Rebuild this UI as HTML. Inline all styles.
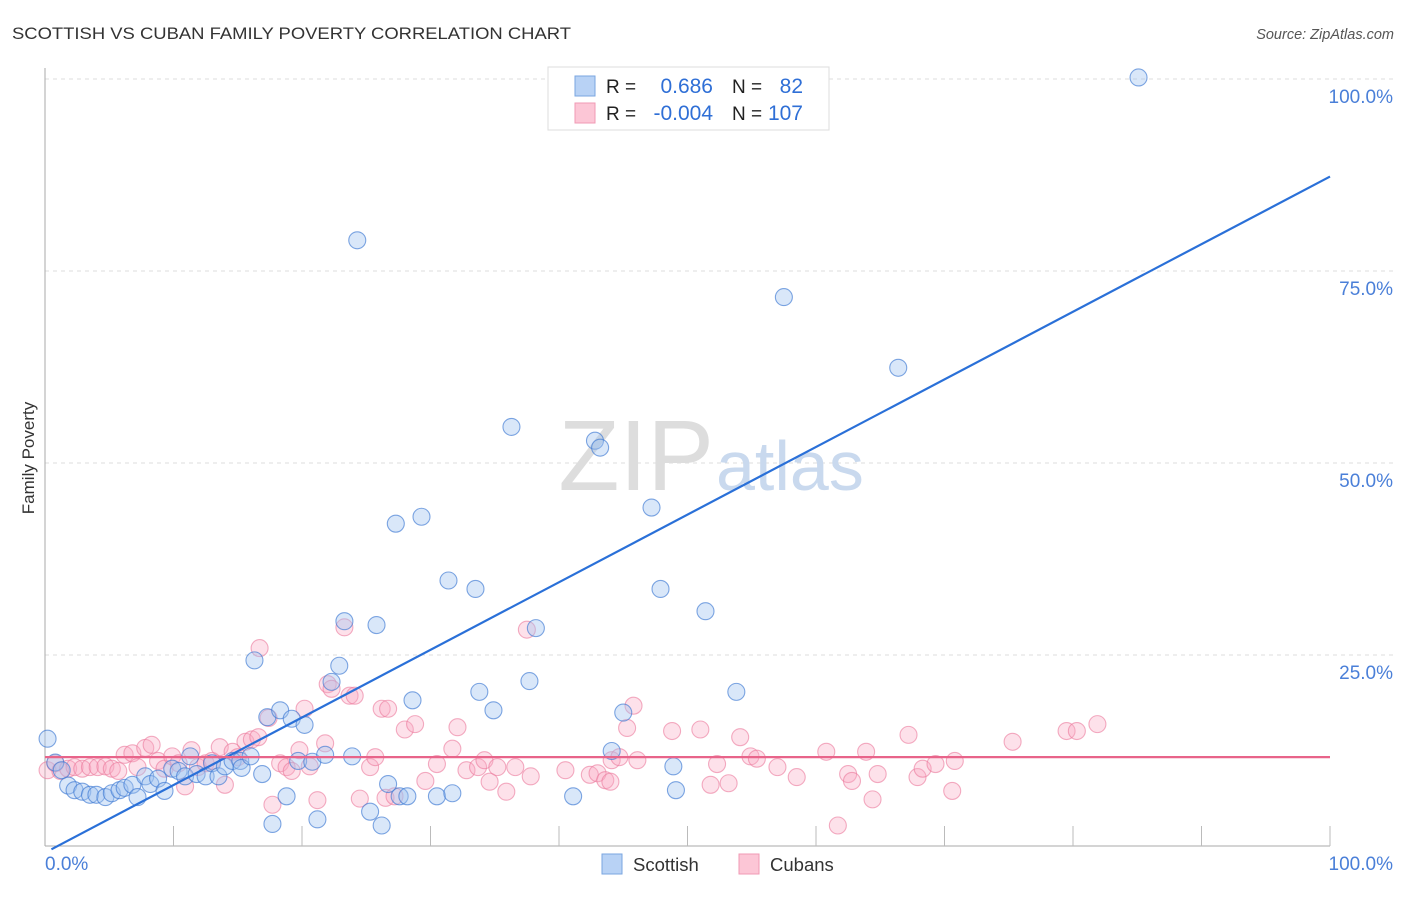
<!DOCTYPE html>
<html><head><meta charset="utf-8"><style>
body{margin:0;background:#fff;font-family:"Liberation Sans",sans-serif;}
svg text{font-family:"Liberation Sans",sans-serif;}
</style></head><body>
<svg id="c" width="1406" height="892">
<text x="12" y="39" font-size="17" fill="#333" textLength="559" lengthAdjust="spacingAndGlyphs">SCOTTISH VS CUBAN FAMILY POVERTY CORRELATION CHART</text>
<text x="1394" y="39" font-size="14.5" fill="#555" font-style="italic" text-anchor="end">Source: ZipAtlas.com</text>
<text x="34" y="458" font-size="17" fill="#333" text-anchor="middle" transform="rotate(-90 34 458)">Family Poverty</text>
<g id="grid"></g>
<text x="714" y="490" font-size="100" fill="#ddd" text-anchor="end" font-family="Liberation Serif">ZIP</text>
<text x="716" y="490" font-size="70" fill="#c9d9ee">atlas</text>
<g id="pts"></g>
<g id="lines"></g>
<g>
<rect x="548" y="67" width="281" height="63" fill="#fff" stroke="#ddd"/>
<rect x="575" y="76" width="20" height="20" fill="#b8d2f5" stroke="#7aa6e0"/>
<rect x="575" y="103" width="20" height="20" fill="#fcc6d6" stroke="#f09ab4"/>
<text x="606" y="93" font-size="19" fill="#222">R =</text><text x="713" y="93" font-size="21" fill="#2f6fd6" text-anchor="end">0.686</text>
<text x="732" y="93" font-size="19" fill="#222">N =</text><text x="803" y="93" font-size="21" fill="#2f6fd6" text-anchor="end">82</text>
<text x="606" y="120" font-size="19" fill="#222">R =</text><text x="713" y="120" font-size="21" fill="#2f6fd6" text-anchor="end">-0.004</text>
<text x="732" y="120" font-size="19" fill="#222">N =</text><text x="803" y="120" font-size="21" fill="#2f6fd6" text-anchor="end">107</text>
</g>
<g>
<rect x="602" y="854" width="20" height="20" fill="#b8d2f5" stroke="#7aa6e0"/>
<text x="633" y="871" font-size="18.5" fill="#333">Scottish</text>
<rect x="739" y="854" width="20" height="20" fill="#fcc6d6" stroke="#f09ab4"/>
<text x="770" y="871" font-size="18.5" fill="#333">Cubans</text>
</g>
<text x="45" y="870" font-size="19" fill="#4a7fd8">0.0%</text>
<text x="1393" y="870" font-size="19" fill="#4a7fd8" text-anchor="end">100.0%</text>
</svg>
<script>
const yTicks=[100,75,50,25];
const yTickLabels=["100.0%","75.0%","50.0%","25.0%"];
const xTicks=[10,20,30,40,50,60,70,80,90,100];
const scottishX=[0.2,0.8,1.3,1.8,2.3,2.9,3.5,4.0,4.7,5.2,5.8,6.2,6.8,7.2,7.8,8.2,8.8,9.3,9.9,10.4,10.9,11.3,11.8,12.5,13.0,13.5,14.0,14.6,15.2,15.3,16.0,16.3,16.9,17.3,17.7,18.3,18.8,19.2,19.7,20.2,20.8,21.2,21.8,22.3,22.9,23.3,23.9,24.3,25.3,25.8,26.2,26.7,27.3,27.6,28.2,28.6,29.3,30.5,31.4,31.7,33.5,33.8,34.9,36.3,37.7,38.2,41.1,42.8,43.2,44.1,45.0,47.2,47.9,48.9,49.1,51.4,53.8,57.5,66.4,85.1,50.0,58.5];
const scottishY=[14.1,11.0,10.0,8.0,7.4,7.2,6.8,6.8,6.5,7.0,7.4,7.7,8.1,6.5,9.2,8.2,8.9,7.3,10.2,9.9,9.2,11.8,9.5,9.2,10.9,9.2,10.5,11.2,11.2,10.3,11.8,24.3,9.5,16.9,3.0,17.8,6.6,16.7,11.2,15.9,11.1,3.6,12.0,21.5,23.6,29.4,11.8,79.0,4.6,28.9,2.8,8.2,42.1,6.6,6.6,19.1,43.0,6.6,34.7,7.0,33.6,20.2,17.8,54.7,21.6,28.5,6.6,52.9,52.0,12.5,17.5,44.2,33.6,10.5,7.4,30.7,20.2,71.6,62.4,100.2,100.2,100.2];
const cubanX=[0.2,0.8,1.2,1.8,2.3,2.9,3.5,4.1,4.7,5.2,5.7,6.2,6.8,7.2,7.8,8.3,8.8,9.3,9.9,10.4,10.9,11.4,11.9,12.5,13.0,13.6,14.0,14.6,15.0,15.6,16.1,16.6,16.7,17.4,17.7,18.3,18.8,19.2,19.8,20.2,20.6,21.2,21.8,22.0,22.3,23.3,23.7,24.1,24.5,25.3,25.7,26.2,26.7,26.5,27.2,28.0,28.8,29.6,30.5,31.7,32.1,32.8,33.7,34.2,34.6,35.2,35.9,36.6,37.5,37.8,40.5,42.4,43.0,43.6,44.0,44.1,44.7,45.3,45.8,46.1,48.8,51.0,51.8,52.3,53.2,54.1,54.9,55.4,57.0,58.5,60.8,61.7,62.5,62.8,63.9,64.4,64.8,67.2,67.9,68.3,69.3,70.6,70.8,75.3,79.5,80.3,81.9];
const cubanY=[10.0,10.9,9.9,10.2,10.4,10.2,10.4,10.4,10.5,10.2,9.9,12.0,12.2,10.4,12.9,13.3,11.2,10.2,11.8,10.9,7.9,12.6,10.4,10.9,11.2,13.0,8.1,12.4,11.7,13.7,14.0,14.3,25.9,16.8,5.5,10.9,10.4,9.9,12.6,18.0,10.5,6.1,13.5,21.2,20.6,28.6,19.7,19.7,6.3,10.4,11.7,18.0,18.0,6.4,6.6,15.3,16.0,8.6,10.8,12.8,15.6,10.0,10.4,11.3,8.5,10.4,7.2,10.4,28.3,9.2,10.0,9.4,9.6,8.7,8.5,11.3,11.7,15.5,18.4,11.3,15.1,15.3,8.1,10.8,8.3,14.3,11.8,11.5,10.4,9.1,12.4,2.8,9.5,8.6,12.4,6.2,9.5,14.6,9.1,10.2,10.8,7.3,11.2,13.7,15.1,15.1,16.0];
const trendScot=[-0.3,87.3];
const trendCub=[11.7,11.7];
const NS="http://www.w3.org/2000/svg";
const X0=45,X1=1330,Y0=847,Y1=79;
const sx=v=>X0+(X1-X0)*v/100, sy=v=>Y0-(Y0-Y1)*v/100;
function mk(t,a,p){const e=document.createElementNS(NS,t);for(const k in a)e.setAttribute(k,a[k]);p.appendChild(e);return e;}
const g=document.getElementById('grid');
yTicks.forEach((v,i)=>{
 const l=mk('line',{x1:X0,x2:1394,y1:sy(v),y2:sy(v),stroke:'#ddd','stroke-dasharray':'4,4'},g);
 
 
 const t=mk('text',{x:1393,y:sy(v)+24,'font-size':19,fill:'#4a7fd8','text-anchor':'end'},g);t.textContent=yTickLabels[i];
 
 
});
const ax=mk('line',{x1:X0,x2:X0,y1:68,y2:846,stroke:'#aaa'},g);


const bx=mk('line',{x1:X0,x2:X1,y1:846,y2:846,stroke:'#aaa'},g);


xTicks.forEach(v=>{const t=mk('line',{x1:sx(v),x2:sx(v),y1:826,y2:846,stroke:'#bbb'},g);
 
 });
const p=document.getElementById('pts');
cubanX.forEach((x,i)=>{const c=mk('circle',{cx:sx(x),cy:sy(cubanY[i]),r:8.5,fill:'rgba(248,170,195,0.35)',stroke:'rgba(235,120,155,0.6)','stroke-width':1.1},p);
 
 });
scottishX.forEach((x,i)=>{const c=mk('circle',{cx:sx(x),cy:sy(scottishY[i]),r:8.5,fill:'rgba(160,195,240,0.4)',stroke:'rgba(60,120,210,0.65)','stroke-width':1.1},p);
 
 });
const L=document.getElementById('lines');
const a=mk('line',{x1:sx(0.5),y1:sy(trendScot[0]),x2:sx(100),y2:sy(trendScot[1]),stroke:'#2a70d8','stroke-width':2.2},L);


const b=mk('line',{x1:sx(0),y1:sy(trendCub[0]),x2:sx(100),y2:sy(trendCub[1]),stroke:'#e8648a','stroke-width':2.2},L);


</script>
</body></html>
